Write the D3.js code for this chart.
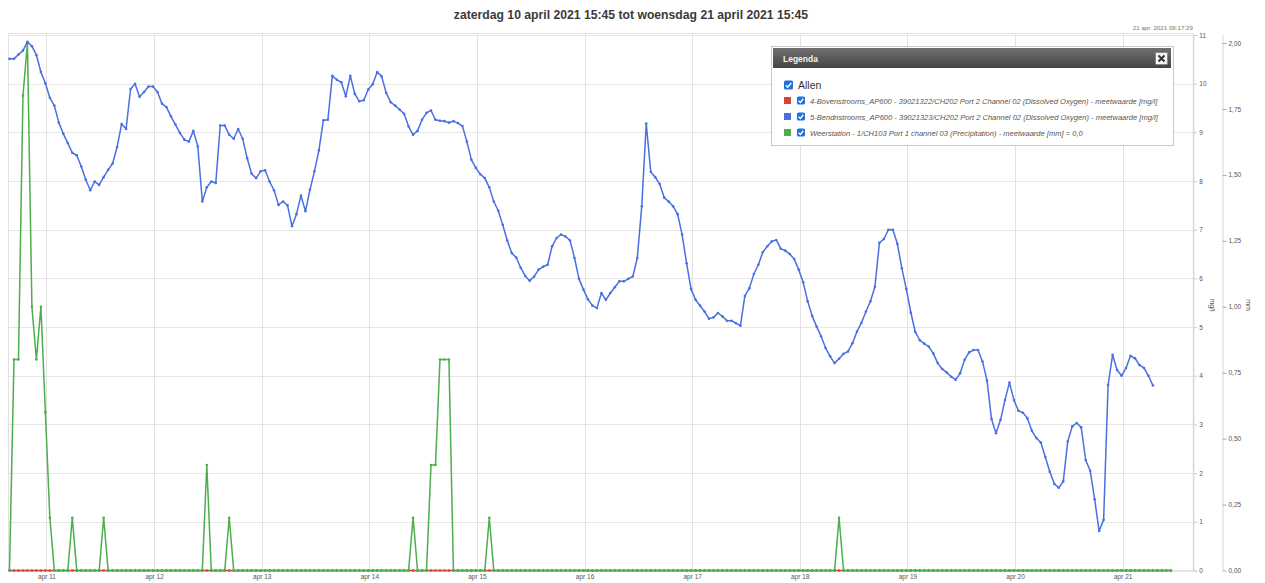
<!DOCTYPE html>
<html><head><meta charset="utf-8">
<script src="https://cdn.jsdelivr.net/npm/d3@7"></script>
<style>
body{margin:0;background:#fff;}
svg{display:block;font-family:"Liberation Sans",Arial,Helvetica,sans-serif;}
</style>
</head><body>
<svg id="chart" width="1265" height="583"></svg>
<script>
// ---------- data ----------
const titleText = "zaterdag 10 april 2021 15:45 tot woensdag 21 april 2021 15:45";
const stampText = "21 apr. 2021 08:17:29";
const startTime = "2021-04-10T15:45:00Z";
const endTime = "2021-04-21T15:45:00Z";
const dayTicks = ["2021-04-11","2021-04-12","2021-04-13","2021-04-14","2021-04-15","2021-04-16","2021-04-17","2021-04-18","2021-04-19","2021-04-20","2021-04-21"];
const dayLabels = ["apr 11","apr 12","apr 13","apr 14","apr 15","apr 16","apr 17","apr 18","apr 19","apr 20","apr 21"];
const mglTicks = [0,1,2,3,4,5,6,7,8,9,10,11];
const mmTicks = [0,0.25,0.5,0.75,1,1.25,1.5,1.75,2];
const mmTickLabels = ["0,00","0,25","0,50","0,75","1,00","1,25","1,50","1,75","2,00"];
const seriesNames = [
  "4-Bovenstrooms_AP600 - 39021322/CH202 Port 2 Channel 02 (Dissolved Oxygen) - meetwaarde [mg/l]",
  "5-Bendnstrooms_AP600 - 39021323/CH202 Port 2 Channel 02 (Dissolved Oxygen) - meetwaarde [mg/l]",
  "Weerstation - 1/CH103 Port 1 channel 03 (Precipitation) - meetwaarde [mm] = 0,0"
];
const seriesColors = ["#d9413b","#4a6fe3","#4cae4c"];

// hourly values, mg/l (upstream sensor, all zero)
const oxygenUp = [
0,0,0,0,0,0,0,0,0,0, 0,0,0,0,0,0,0,0,0,0, 0,0,0,0,0,0,0,0,0,0, 0,0,0,0,0,0,0,0,0,0,
0,0,0,0,0,0,0,0,0,0, 0,0,0,0,0,0,0,0,0,0, 0,0,0,0,0,0,0,0,0,0, 0,0,0,0,0,0,0,0,0,0,
0,0,0,0,0,0,0,0,0,0, 0,0,0,0,0,0,0,0,0,0, 0,0,0,0,0,0,0,0,0,0, 0,0,0,0,0,0,0,0,0,0,
0,0,0,0,0,0,0,0,0,0, 0,0,0,0,0,0,0,0,0,0, 0,0,0,0,0,0,0,0,0,0, 0,0,0,0,0,0,0,0,0,0,
0,0,0,0,0,0,0,0,0,0, 0,0,0,0,0,0,0,0,0,0, 0,0,0,0,0,0,0,0,0,0, 0,0,0,0,0,0,0,0,0,0,
0,0,0,0,0,0,0,0,0,0, 0,0,0,0,0,0,0,0,0,0, 0,0,0,0,0,0,0,0,0,0, 0,0,0,0,0,0,0,0,0,0,
0,0,0,0,0,0,0,0,0,0, 0,0,0,0,0,0,0,0,0,0
];
// hourly values, mg/l (downstream sensor)
const oxygenDown = [
10.51,10.51,10.6,10.68,10.86,10.77,10.59,10.24,10.01,9.71,
9.55,9.2,8.97,8.78,8.58,8.53,8.3,8.03,7.81,7.99,
7.92,8.08,8.23,8.36,8.7,9.17,9.07,9.89,10.0,9.73,
9.83,9.94,9.94,9.83,9.59,9.52,9.33,9.16,8.99,8.85,
8.81,9.03,8.71,7.58,7.87,7.99,7.96,9.14,9.14,8.95,
8.87,9.07,8.87,8.47,8.15,8.06,8.2,8.22,7.99,7.81,
7.51,7.58,7.5,7.07,7.32,7.7,7.38,7.82,8.2,8.63,
9.25,9.26,10.16,10.08,10.03,9.74,10.16,9.79,9.64,9.66,
9.88,9.99,10.24,10.15,9.81,9.62,9.55,9.47,9.38,9.12,
8.95,9.03,9.26,9.4,9.45,9.26,9.24,9.23,9.2,9.23,
9.19,9.13,8.81,8.44,8.27,8.14,8.06,7.87,7.58,7.39,
7.1,6.78,6.52,6.43,6.22,6.05,5.95,6.04,6.18,6.24,
6.28,6.66,6.83,6.9,6.86,6.78,6.42,5.99,5.77,5.57,
5.44,5.39,5.7,5.56,5.7,5.82,5.94,5.94,5.99,6.04,
6.42,7.48,9.18,8.19,8.08,7.94,7.66,7.58,7.48,7.32,
6.9,6.31,5.78,5.56,5.44,5.32,5.17,5.2,5.29,5.22,
5.13,5.13,5.08,5.03,5.64,5.8,6.09,6.28,6.54,6.66,
6.76,6.79,6.61,6.57,6.5,6.4,6.18,5.92,5.53,5.23,
5.01,4.81,4.57,4.4,4.26,4.35,4.45,4.5,4.67,4.91,
5.09,5.32,5.53,5.83,6.73,6.81,7.0,7.0,6.71,6.21,
5.78,5.3,4.9,4.73,4.66,4.6,4.46,4.26,4.14,4.07,
3.98,3.92,4.05,4.33,4.48,4.53,4.53,4.29,3.9,3.11,
2.82,3.09,3.5,3.86,3.5,3.28,3.24,3.13,2.87,2.72,
2.63,2.33,2.03,1.78,1.7,1.83,2.65,2.96,3.03,2.94,
2.27,2.05,1.46,0.81,1.04,3.81,4.43,4.12,4.0,4.16,
4.41,4.36,4.22,4.16,4.0,3.8
];
// hourly precipitation, mm
const precipitation = [
0,0.8,0.8,1.8,2.0,1.0,0.8,1.0,0.6,0.2, 0,0,0,0,0.2,0,0,0,0,0, 0,0.2,0,0,0,0,0,0,0,0, 0,0,0,0,0,0,0,0,0,0,
0,0,0,0,0.4,0,0,0,0,0.2, 0,0,0,0,0,0,0,0,0,0, 0,0,0,0,0,0,0,0,0,0, 0,0,0,0,0,0,0,0,0,0,
0,0,0,0,0,0,0,0,0,0, 0.2,0,0,0,0.4,0.4,0.8,0.8,0.8,0, 0,0,0,0,0,0,0,0.2,0,0, 0,0,0,0,0,0,0,0,0,0,
0,0,0,0,0,0,0,0,0,0, 0,0,0,0,0,0,0,0,0,0, 0,0,0,0,0,0,0,0,0,0, 0,0,0,0,0,0,0,0,0,0,
0,0,0,0,0,0,0,0,0,0, 0,0,0,0,0,0,0,0,0,0, 0,0,0,0,0,0.2,0,0,0,0, 0,0,0,0,0,0,0,0,0,0,
0,0,0,0,0,0,0,0,0,0, 0,0,0,0,0,0,0,0,0,0, 0,0,0,0,0,0,0,0,0,0, 0,0,0,0,0,0,0,0,0,0,
0,0,0,0,0,0,0,0,0,0, 0,0,0,0,0,0,0,0,0,0
];

// ---------- drawing ----------
const svg = d3.select("#chart");
const t0 = new Date(startTime), t1 = new Date(endTime);
const plot = {left: 9.5, right: 1193.3, top: 35, bottom: 570.5};

const x = d3.scaleUtc().domain([t0, t1]).range([plot.left, plot.right]);
const yMg = d3.scaleLinear().domain([0, 11]).range([plot.bottom, plot.top]);
const yMm = d3.scaleLinear().domain([0, 2]).range([plot.bottom, 43]);
const timeAt = i => d3.utcHour.offset(t0, i);

// title + timestamp
svg.append("text").attr("x", 631).attr("y", 18.5).attr("text-anchor", "middle")
  .attr("font-size", 12.2).attr("font-weight", "bold").attr("fill", "#3a3a3a").text(titleText);
svg.append("text").attr("x", 1193).attr("y", 29.5).attr("text-anchor", "end")
  .attr("font-size", 6.2).attr("fill", "#777").text(stampText);

// frame
svg.append("rect").attr("x", 8.5).attr("y", 33.5).attr("width", plot.right - 8.5).attr("height", plot.bottom - 33.5)
  .attr("fill", "none").attr("stroke", "#e2e2e2").attr("stroke-width", 1);

// horizontal grid (mg/l)
const gY = svg.append("g").attr("transform", `translate(${plot.right},0)`)
  .call(d3.axisRight(yMg).tickValues(mglTicks).tickSize(4).tickPadding(2).tickFormat(d3.format("d")));
gY.select(".domain").attr("stroke", "#cfcfcf");
gY.selectAll(".tick line").attr("stroke", "#cfcfcf");
gY.selectAll(".tick text").attr("font-size", 6.5).attr("fill", "#555").attr("font-family", "Liberation Sans, Arial, sans-serif");
svg.append("g").selectAll("line").data(mglTicks).join("line")
  .attr("x1", 8.5).attr("x2", plot.right).attr("y1", d => Math.round(yMg(d)) + 0.5).attr("y2", d => Math.round(yMg(d)) + 0.5)
  .attr("stroke", "#e6e6e6");

// vertical grid (days)
const dayDates = dayTicks.map(d => new Date(d + "T00:00:00Z"));
svg.append("g").selectAll("line").data(dayDates).join("line")
  .attr("x1", d => Math.round(x(d)) + 0.5).attr("x2", d => Math.round(x(d)) + 0.5)
  .attr("y1", 33.5).attr("y2", plot.bottom).attr("stroke", "#e2e2e2");
const gX = svg.append("g").attr("transform", `translate(0,${plot.bottom})`)
  .call(d3.axisBottom(x).tickValues(dayDates).tickSize(0).tickPadding(4)
    .tickFormat((d, i) => dayLabels[i]));
gX.select(".domain").remove();
gX.selectAll(".tick text").attr("font-size", 6.5).attr("fill", "#555").attr("font-family", "Liberation Sans, Arial, sans-serif");

// mm axis
const gMm = svg.append("g").attr("transform", "translate(1222.5,0)")
  .call(d3.axisRight(yMm).tickValues(mmTicks).tickSize(4).tickPadding(2)
    .tickFormat((d, i) => mmTickLabels[i]));
gMm.select(".domain").attr("stroke", "#d6d6d6").attr("d", `M0.5,${plot.top}V${plot.bottom}`);
gMm.selectAll(".tick line").attr("stroke", "#aaa");
gMm.selectAll(".tick text").attr("font-size", 6.5).attr("fill", "#555").attr("font-family", "Liberation Sans, Arial, sans-serif");

// axis titles
svg.append("text").attr("transform", "translate(1210,305) rotate(90)").attr("text-anchor", "middle")
  .attr("font-size", 7).attr("fill", "#555").text("mg/l");
svg.append("text").attr("transform", "translate(1246,305) rotate(90)").attr("text-anchor", "middle")
  .attr("font-size", 7).attr("fill", "#555").text("mm");

// series
function drawSeries(values, yScale, color) {
  const pts = values.map((v, i) => [timeAt(i), v]);
  const line = d3.line().x(d => x(d[0])).y(d => yScale(d[1]));
  const g = svg.append("g");
  g.append("path").datum(pts).attr("d", line).attr("fill", "none")
    .attr("stroke", color).attr("stroke-width", 1.5).attr("stroke-linejoin", "round");
  g.selectAll("circle").data(pts).join("circle")
    .attr("cx", d => x(d[0])).attr("cy", d => yScale(d[1])).attr("r", 1.3).attr("fill", color);
}
drawSeries(oxygenUp, yMg, seriesColors[0]);
drawSeries(precipitation, yMm, seriesColors[2]);
drawSeries(oxygenDown, yMg, seriesColors[1]);

// ---------- legend ----------
const lg = svg.append("g");
const defs = svg.append("defs");
const grad = defs.append("linearGradient").attr("id", "hdr").attr("x1", 0).attr("x2", 0).attr("y1", 0).attr("y2", 1);
grad.append("stop").attr("offset", "0%").attr("stop-color", "#707070");
grad.append("stop").attr("offset", "100%").attr("stop-color", "#444");
lg.append("rect").attr("x", 771.5).attr("y", 46.5).attr("width", 402).attr("height", 99)
  .attr("fill", "#fff").attr("stroke", "#c8c8c8");
lg.append("rect").attr("x", 773).attr("y", 48).attr("width", 398).attr("height", 20).attr("fill", "url(#hdr)");
lg.append("text").attr("x", 783).attr("y", 61.5).attr("font-size", 8.5).attr("font-weight", "bold")
  .attr("fill", "#f2f2f2").text("Legenda");
lg.append("rect").attr("x", 1155.5).attr("y", 52.5).attr("width", 12).attr("height", 12).attr("rx", 1)
  .attr("fill", "#f4f4f4").attr("stroke", "#888");
lg.append("path").attr("d", "M1158.5,55.5L1164.5,61.5M1164.5,55.5L1158.5,61.5")
  .attr("stroke", "#333").attr("stroke-width", 2);

function checkbox(cx, cy, s) {
  lg.append("rect").attr("x", cx).attr("y", cy).attr("width", s).attr("height", s).attr("rx", 1.5)
    .attr("fill", "#1f6fe0");
  lg.append("path").attr("d", `M${cx + s*0.2},${cy + s*0.52}L${cx + s*0.42},${cy + s*0.74}L${cx + s*0.8},${cy + s*0.28}`)
    .attr("fill", "none").attr("stroke", "#fff").attr("stroke-width", 1.4);
}
checkbox(784, 80.5, 9);
lg.append("text").attr("x", 798).attr("y", 88.5).attr("font-size", 10.5).attr("fill", "#333").text("Allen");
const rowY = [97, 113, 129];
seriesNames.forEach((name, i) => {
  lg.append("rect").attr("x", 784).attr("y", rowY[i]).attr("width", 7).attr("height", 7).attr("fill", seriesColors[i]);
  checkbox(797, rowY[i] - 0.5, 8);
  lg.append("text").attr("x", 810).attr("y", rowY[i] + 7).attr("font-size", 7.55).attr("font-style", "italic")
    .attr("fill", "#555").text(name);
});
</script>
</body></html>
